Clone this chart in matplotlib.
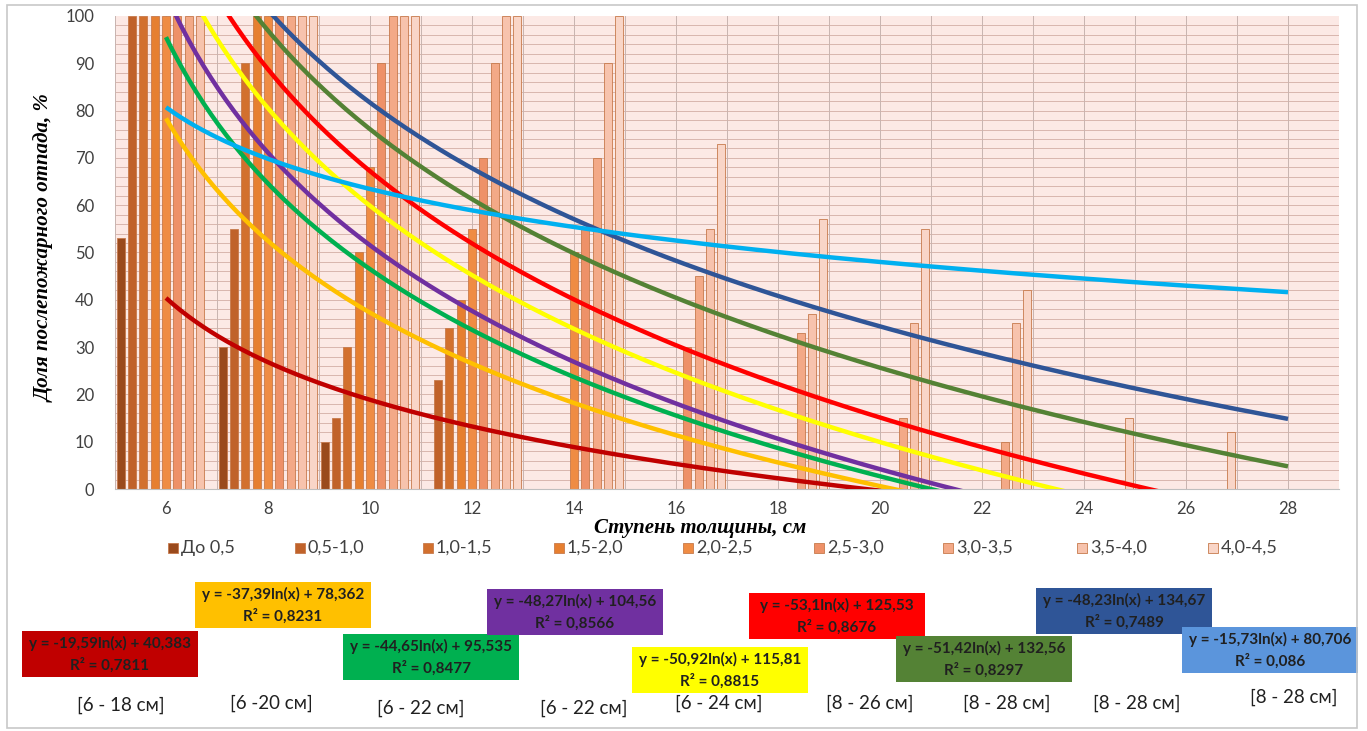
import numpy as np
import matplotlib.pyplot as plt
from matplotlib.patches import Rectangle

# ------------------------------------------------------------
# Data
# ------------------------------------------------------------

# thickness steps (cm); on the chart they are categories 1..12
steps_cm = [6, 8, 10, 12, 14, 16, 18, 20, 22, 24, 26, 28]

series_names = ["До 0,5", "0,5-1,0", "1,0-1,5", "1,5-2,0", "2,0-2,5",
                "2,5-3,0", "3,0-3,5", "3,5-4,0", "4,0-4,5"]

# share of post-fire mortality, %, one list per series (per step)
s_0_05 = [53, 30, 10, 0, 0, 0, 0, 0, 0, 0, 0, 0]
s_05_10 = [100, 55, 15, 23, 0, 0, 0, 0, 0, 0, 0, 0]
s_10_15 = [100, 90, 30, 34, 0, 0, 0, 0, 0, 0, 0, 0]
s_15_20 = [100, 100, 50, 40, 0, 0, 0, 0, 0, 0, 0, 0]
s_20_25 = [100, 100, 68, 55, 50, 0, 0, 0, 0, 0, 0, 0]
s_25_30 = [100, 100, 90, 70, 55, 30, 0, 0, 0, 0, 0, 0]
s_30_35 = [100, 100, 100, 90, 70, 45, 33, 15, 10, 0, 0, 0]
s_35_40 = [100, 100, 100, 100, 90, 55, 37, 35, 35, 0, 0, 0]
s_40_45 = [0, 100, 100, 100, 100, 73, 57, 55, 42, 15, 12, 0]

series_values = [s_0_05, s_05_10, s_10_15, s_15_20, s_20_25,
                 s_25_30, s_30_35, s_35_40, s_40_45]

# logarithmic trend lines y = a*ln(x) + b, with R^2
trend_a = [-19.59, -37.39, -44.65, -48.27, -50.92, -53.1, -51.42, -48.23, -15.73]
trend_b = [40.383, 78.362, 95.535, 104.56, 115.81, 125.53, 132.56, 134.67, 80.706]
trend_r2 = ["0,7811", "0,8231", "0,8477", "0,8566", "0,8815",
            "0,8676", "0,8297", "0,7489", "0,086"]
eq_texts = ["y = -19,59ln(x) + 40,383", "y = -37,39ln(x) + 78,362",
            "y = -44,65ln(x) + 95,535", "y = -48,27ln(x) + 104,56",
            "y = -50,92ln(x) + 115,81", "y = -53,1ln(x) + 125,53",
            "y = -51,42ln(x) + 132,56", "y = -48,23ln(x) + 134,67",
            "y = -15,73ln(x) + 80,706"]
range_texts = ["[6 - 18 см]", "[6 -20 см]", "[6 - 22 см]", "[6 - 22 см]",
               "[6 - 24 см]", "[8 - 26 см]", "[8 - 28 см]", "[8 - 28 см]",
               "[8 - 28 см]"]

# ------------------------------------------------------------
# Styles
# ------------------------------------------------------------

bar_colors = ["#9a4a1c", "#c0622a", "#d2702e", "#e67f30", "#ef8c44",
              "#ee9168", "#f3a987", "#f7c3ad", "#f9d5c7"]
line_colors = ["#c00000", "#ffc000", "#00b050", "#7030a0", "#ffff00",
               "#ff0000", "#548235", "#2f5597", "#00b0f0"]
box_colors = ["#c00000", "#ffc000", "#00b050", "#7030a0", "#ffff00",
              "#ff0000", "#548235", "#2f5597", "#5b95dc"]

# box centres and range-label centres in pixels of the 1367x731 picture
box_px = [(110, 654), (283, 605), (431, 657), (575, 612), (720, 670),
          (837, 616), (984, 659), (1124, 611), (1270, 650)]
range_px = [(121, 705), (271, 703), (421, 708), (584, 708), (719, 703),
            (870, 703), (1007, 703), (1137, 703), (1294, 697)]
legend_px = [173, 300, 428, 559, 688, 819, 948, 1082, 1213]

W, H = 1367, 731
SANS = ["Lato", "DejaVu Sans"]
SERIF = ["Liberation Serif", "DejaVu Serif"]


def fx(px):
    return px / W


def fy(py):
    return 1 - py / H


fig = plt.figure(figsize=(W / 100, H / 100), dpi=100)
ax = fig.add_axes([fx(115), fy(489), fx(1339 - 115), (489 - 16) / H])
ax.set_facecolor("#fce9e5")

# gridlines: horizontal every 2 %, vertical every 1 cm
for yv in np.arange(2, 100, 2):
    ax.axhline(yv, color="#d8b6ae", lw=0.7, zorder=0)
for xv in np.arange(0.5, 12.6, 0.5):
    ax.axvline(xv, color="#c8b4b0", lw=0.7, zorder=0)

# bars
x = np.arange(1, len(steps_cm) + 1)
n = len(series_names)
slot = 1.0 / n
for i, (vals, col) in enumerate(zip(series_values, bar_colors)):
    pos = x - 0.5 + slot * (i + 0.5)
    ax.bar(pos, vals, width=slot * 0.72, color=col,
           edgecolor="#c77a4c", linewidth=0.6, zorder=2)

# trend lines
xs = np.linspace(1, 12, 300)
for a, b, col in zip(trend_a, trend_b, line_colors):
    ax.plot(xs, a * np.log(xs) + b, color=col, lw=3.2, zorder=3,
            solid_capstyle="butt")

ax.set_xlim(0.5, 12.5)
ax.set_ylim(0, 100)
ax.set_xticks(x)
ax.set_xticklabels([str(s) for s in steps_cm])
ax.set_yticks(np.arange(0, 101, 10))
ax.tick_params(axis="both", length=0, labelsize=12, colors="#404040")
ax.tick_params(axis="y", pad=15)
ax.tick_params(axis="x", pad=9)
for lab in ax.get_xticklabels() + ax.get_yticklabels():
    lab.set_family(SANS)
for side in ["top", "left", "right"]:
    ax.spines[side].set_visible(False)
ax.spines["bottom"].set_color("#bfbfbf")

# axis titles
fig.text(fx(45), fy(248), "Доля послепожарного отпада, %", rotation=90,
         ha="center", va="center", fontsize=15, fontweight="bold",
         fontstyle="italic", family=SERIF)
fig.text(fx(700), fy(528), "Ступень толщины, см", ha="center",
         va="center", fontsize=15, fontweight="bold", fontstyle="italic",
         family=SERIF)

# legend drawn by hand so entries are evenly spaced like the original
for name, col, lx in zip(series_names, bar_colors, legend_px):
    fig.patches.append(Rectangle((fx(lx - 5), fy(553)), fx(10), 10 / H,
                                 facecolor=col, edgecolor="#c77a4c",
                                 lw=0.6, transform=fig.transFigure))
    fig.text(fx(lx + 8), fy(548), name, ha="left", va="center",
             fontsize=13, color="#404040", family=SANS)

# equation boxes and ranges
bw, bh = 176, 46
for eq, r2, col, (cx, cy) in zip(eq_texts, trend_r2, box_colors, box_px):
    fig.patches.append(Rectangle((fx(cx - bw / 2), fy(cy + bh / 2)),
                                 fx(bw), bh / H, facecolor=col,
                                 edgecolor="none",
                                 transform=fig.transFigure))
    fig.text(fx(cx), fy(cy - 11), eq, ha="center", va="center",
             fontsize=11, fontweight="bold", color="#202020", family=SANS)
    fig.text(fx(cx), fy(cy + 11), f"R² = {r2}", ha="center",
             va="center", fontsize=11, fontweight="bold",
             color="#202020", family=SANS)

for txt, (cx, cy) in zip(range_texts, range_px):
    fig.text(fx(cx), fy(cy), txt, ha="center", va="center", fontsize=13.5,
             color="#202020", family=SANS)

# thin frame round the whole picture
fig.patches.append(Rectangle((fx(7), fy(728)), fx(1357 - 7), (728 - 5) / H,
                             facecolor="none", edgecolor="#c8c8c8", lw=1.2,
                             transform=fig.transFigure))

fig.savefig("out.png", dpi=100)
